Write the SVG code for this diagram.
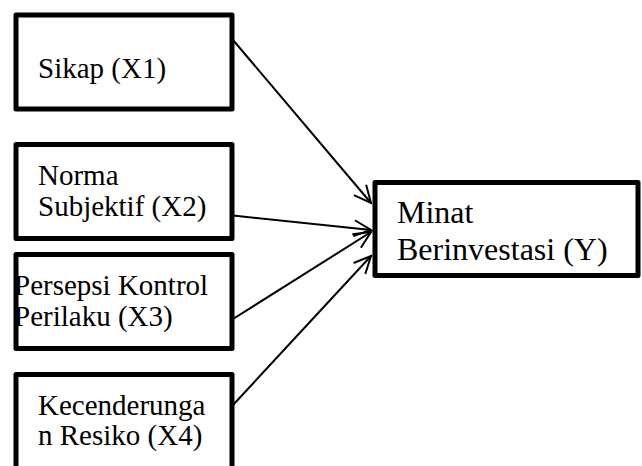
<svg xmlns="http://www.w3.org/2000/svg" width="642" height="466" viewBox="0 0 642 466">
<style>
.box{fill:#fff;stroke:#000;stroke-width:5;stroke-linejoin:round}
.t{font-family:"Liberation Serif","Times New Roman",serif;font-size:29px;fill:#000}
.ty{font-size:32px}
.c{stroke:#000;stroke-width:2;fill:none}
</style>
<defs>
<marker id="arr" markerUnits="userSpaceOnUse" markerWidth="22" markerHeight="22" refX="18" refY="9" orient="auto" viewBox="0 0 22 18">
<path d="M1,1 L18,9 L1,17" fill="none" stroke="#000" stroke-width="2"/>
</marker>
</defs>
<rect width="642" height="466" fill="#fff"/>
<g id="connectors">
<line class="c" x1="233" y1="40" x2="371" y2="203" marker-end="url(#arr)"/>
<line class="c" x1="233" y1="215.5" x2="371" y2="230" marker-end="url(#arr)"/>
<line class="c" x1="233" y1="319" x2="371" y2="232" marker-end="url(#arr)"/>
<line class="c" x1="233" y1="405" x2="371" y2="256" marker-end="url(#arr)"/>
</g>
<g id="x1">
<rect class="box" x="16" y="15" width="216" height="94"/>
<text class="t" x="38" y="78">Sikap (X1)</text>
</g>
<g id="x2">
<rect class="box" x="16" y="144.5" width="216" height="94"/>
<text class="t" x="38" y="185">Norma</text>
<text class="t" x="38" y="216">Subjektif (X2)</text>
</g>
<g id="x3">
<rect class="box" x="16" y="254.5" width="216" height="94"/>
<text class="t" x="14" y="295">Persepsi Kontrol</text>
<text class="t" x="14" y="326">Perilaku (X3)</text>
</g>
<g id="x4">
<rect class="box" x="16" y="374.5" width="216" height="120"/>
<text class="t" x="38" y="415">Kecenderunga</text>
<text class="t" x="38" y="445">n Resiko (X4)</text>
</g>
<g id="y">
<rect class="box" x="375" y="182.5" width="263" height="93"/>
<text class="t ty" x="397" y="223">Minat</text>
<text class="t ty" x="397" y="260">Berinvestasi (Y)</text>
</g>
</svg>
